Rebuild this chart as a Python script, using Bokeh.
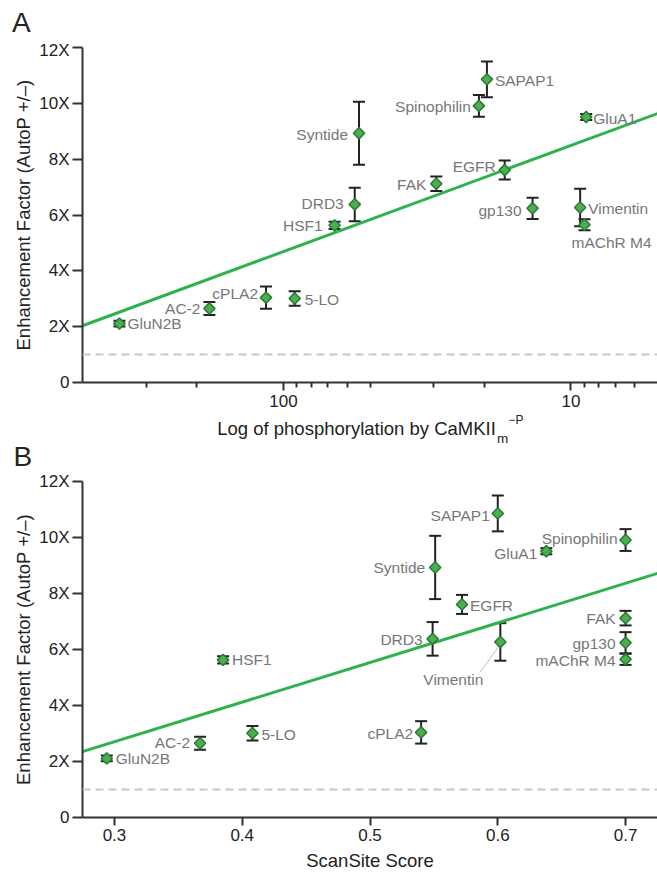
import numpy as np
from bokeh.plotting import figure
from bokeh.models import (Range1d, FixedTicker, Whisker, TeeHead, Span,
                          ColumnDataSource, CustomJSTickFormatter)
from bokeh.layouts import column
from bokeh.core.properties import value
from bokeh.embed import file_html
from bokeh.resources import INLINE

# ---------------- data ----------------
proteins = ["GluN2B", "AC-2", "cPLA2", "5-LO", "HSF1", "DRD3", "Syntide", "FAK",
            "Spinophilin", "SAPAP1", "EGFR", "GluA1", "gp130", "Vimentin", "mAChR M4"]
phosphorylation = [372, 181, 115, 91.4, 66.4, 56.5, 54.6, 29.4,
                   20.9, 19.6, 17.0, 8.85, 13.6, 9.29, 8.97]
scansite_score = [0.294, 0.367, 0.540, 0.408, 0.385, 0.549, 0.551, 0.700,
                  0.700, 0.600, 0.572, 0.638, 0.700, 0.602, 0.700]
enhancement = [2.11, 2.65, 3.04, 3.01, 5.63, 6.38, 8.93, 7.12,
               9.91, 10.86, 7.61, 9.51, 6.24, 6.27, 5.65]
error = [0.10, 0.23, 0.40, 0.26, 0.13, 0.60, 1.13, 0.26,
         0.39, 0.64, 0.34, 0.11, 0.38, 0.67, 0.20]
y_ticks = [0, 2, 4, 6, 8, 10, 12]
phos_major_ticks = [100, 10]
phos_minor_ticks = [300, 200, 90, 80, 70, 60, 50, 30, 20, 9, 8, 7, 6]
score_ticks = [0.3, 0.4, 0.5, 0.6, 0.7]
fit_a = (12.29, -3.80)   # y = a + b*log10(x)
fit_b = (-1.54, 14.15)   # y = a + b*x
baseline_level = 1.0
xlabel_a_main = "Log of phosphorylation by CaMKII"
xlabel_a_sub = "m"
xlabel_a_sup = "\u2212P"
xlabel_b = "ScanSite Score"
ylabel = "Enhancement Factor (AutoP +/\u2013)"

# ---------------- styling ----------------
FONT = "Liberation Sans"
FONT_VALUE = value(FONT)
GREEN_LINE = "#2db24c"
FILL = "#4cae4f"
EDGE = "#2b7a34"
DARK = "#222222"
GRAY_TXT = "#777777"

# label placement (dx px, dy px down, align)
place_a = {
    "GluN2B": (8, 0, "left"), "AC-2": (-9, 0, "right"), "cPLA2": (-8, -4, "right"),
    "5-LO": (10, 1, "left"), "HSF1": (-12, 0, "right"), "DRD3": (-11, -1, "right"),
    "Syntide": (-11, 1, "right"), "FAK": (-10, 1, "right"), "Spinophilin": (-8, 1, "right"),
    "SAPAP1": (8, 1, "left"), "EGFR": (-9, -4, "right"), "GluA1": (7, 1, "left"),
    "gp130": (-11, 2, "right"), "Vimentin": (8, 1, "left"), "mAChR M4": (27, 18, "center"),
}
place_b = {
    "GluN2B": (9, 0, "left"), "AC-2": (-10, -1, "right"), "cPLA2": (-8, 1, "right"),
    "5-LO": (9, 1, "left"), "HSF1": (9, 0, "left"), "DRD3": (-10, 1, "right"),
    "Syntide": (-10, 0, "right"), "FAK": (-10, 0, "right"), "Spinophilin": (-8, -2, "right"),
    "SAPAP1": (-8, 2, "right"), "EGFR": (8, 1, "left"), "GluA1": (-9, 2, "right"),
    "gp130": (-10, 1, "right"), "Vimentin": (-47, 38, "center"), "mAChR M4": (-10, 1, "right"),
}

W = 657
BORDER_L = 82
FRAME_W = W - BORDER_L


def no_align(p):
    if "frame_align" in p.properties():
        p.frame_align = False
    return p


def text_strip(height):
    s = figure(width=W, height=height, x_range=Range1d(0, W), y_range=Range1d(height, 0),
               output_backend="svg", toolbar_location=None, x_axis_location=None,
               y_axis_location=None, min_border_left=0, min_border_right=0,
               min_border_top=0, min_border_bottom=0, min_border=0)
    s.outline_line_color = None
    s.grid.visible = False
    return no_align(s)


def strip_text(s, x, baseline, txt, size_px):
    # text centred vertically ("middle"); shift so that the alphabetic baseline lands on `baseline`
    s.text(x=[x], y=[baseline - 0.36 * size_px], text=[txt], text_font=FONT_VALUE,
           text_font_size=f"{size_px}px", text_color=DARK, text_baseline="middle",
           text_align="left")


def style_common(p, xlabel):
    no_align(p)
    p.outline_line_color = None
    p.grid.visible = False
    for ax in (p.xaxis[0], p.yaxis[0]):
        ax.axis_line_width = 2
        ax.axis_line_color = "#333333"
        ax.major_tick_line_width = 2
        ax.major_tick_line_color = "#333333"
        ax.minor_tick_line_width = 2
        ax.minor_tick_line_color = "#333333"
        ax.major_tick_in = 0
        ax.minor_tick_in = 0
        ax.major_label_text_font = FONT
        ax.major_label_text_font_size = "17px"
        ax.major_label_text_color = DARK
        ax.axis_label_text_font = FONT
        ax.axis_label_text_font_size = "18.5px"
        ax.axis_label_text_font_style = "normal"
        ax.axis_label_text_color = DARK
    y = p.yaxis[0]
    y.ticker = FixedTicker(ticks=y_ticks, minor_ticks=[])
    y.formatter = CustomJSTickFormatter(code="return tick == 0 ? '0' : tick + 'X';")
    y.major_tick_out = 10
    y.major_label_standoff = 3
    y.axis_label = ylabel
    y.axis_label_standoff = 2
    x = p.xaxis[0]
    x.major_tick_out = 8
    x.minor_tick_out = 5
    if xlabel:
        x.axis_label = xlabel
    p.add_layout(Span(location=baseline_level, dimension="width", line_color="#c8c8c8",
                      line_width=2, line_dash="8 5"))


def add_points(p, xs, place):
    lower = [e - d for e, d in zip(enhancement, error)]
    upper = [e + d for e, d in zip(enhancement, error)]
    src = ColumnDataSource(dict(
        x=xs, y=enhancement, lower=lower, upper=upper, name=proteins,
        dx=[place[n][0] for n in proteins], dy=[place[n][1] for n in proteins],
        align=[place[n][2] for n in proteins]))
    wh = Whisker(source=src, base="x", upper="upper", lower="lower", dimension="height",
                 line_color=DARK, line_width=2, level="underlay",
                 upper_head=TeeHead(size=12, line_width=2, line_color=DARK),
                 lower_head=TeeHead(size=12, line_width=2, line_color=DARK))
    p.add_layout(wh)
    p.text(x="x", y="y", text="name", x_offset="dx", y_offset="dy", text_align="align",
           text_baseline="middle", text_font=FONT_VALUE, text_font_size="15.5px",
           text_color=GRAY_TXT, source=src)
    return src


# ---------------- header strip with "A" ----------------
head = text_strip(40)
strip_text(head, 11.5, 31.7, "A", 28)

# ---------------- panel A ----------------
xa0, xa1 = 500, 5
pa = figure(width=W, height=373, x_axis_type="log", x_range=Range1d(xa0, xa1),
            y_range=Range1d(0, 12), output_backend="svg", toolbar_location=None,
            min_border_left=BORDER_L, min_border_right=0, min_border_top=7,
            min_border_bottom=31)
style_common(pa, None)
pa.xaxis[0].ticker = FixedTicker(ticks=phos_major_ticks, minor_ticks=phos_minor_ticks)
pa.xaxis[0].formatter = CustomJSTickFormatter(code="return String(tick);")
pa.xaxis[0].major_label_standoff = 4
fx = np.array([xa0, xa1], dtype=float)
pa.line(fx, fit_a[0] + fit_a[1] * np.log10(fx), line_color=GREEN_LINE, line_width=3)
add_points(pa, phosphorylation, place_a)
pa.scatter(phosphorylation, enhancement, marker="square", angle=np.pi / 4, size=8,
           fill_color=FILL, line_color=EDGE, line_width=1.5)

# ---------------- middle strip: x label of A and "B" ----------------
mid = text_strip(58)
strip_text(mid, 216.7, 22.0, xlabel_a_main, 18.5)
strip_text(mid, 496.5, 29.7, xlabel_a_sub, 13.5)
strip_text(mid, 508.0, 11.0, xlabel_a_sup, 12)
strip_text(mid, 13.0, 53.0, "B", 28)

# ---------------- panel B ----------------
xb0, xb1 = 0.275, 0.725
pb = figure(width=W, height=402, x_range=Range1d(xb0, xb1), y_range=Range1d(0, 12),
            output_backend="svg", toolbar_location=None,
            min_border_left=BORDER_L, min_border_right=0, min_border_top=10,
            min_border_bottom=56)
style_common(pb, xlabel_b)
pb.xaxis[0].ticker = FixedTicker(ticks=score_ticks, minor_ticks=[])
pb.xaxis[0].major_label_standoff = 3
pb.xaxis[0].axis_label_standoff = 6
gx = np.array([xb0, xb1])
pb.line(gx, fit_b[0] + fit_b[1] * gx, line_color=GREEN_LINE, line_width=3)
add_points(pb, scansite_score, place_b)
# leader line for Vimentin (pixel offsets converted through the scales)
iv = proteins.index("Vimentin")
px_x = (xb1 - xb0) / FRAME_W
px_y = 12 / 336
vx, vy = scansite_score[iv], enhancement[iv]
pb.segment(x0=[vx - 2 * px_x], y0=[vy - 5 * px_y], x1=[vx - 20 * px_x], y1=[vy - 30 * px_y],
           line_color="#bdbdbd", line_width=1)
pb.scatter(scansite_score, enhancement, marker="square", angle=np.pi / 4, size=8,
           fill_color=FILL, line_color=EDGE, line_width=1.5)

layout = column(head, pa, mid, pb, spacing=0)
open("out.html", "w").write(file_html(layout, INLINE))
